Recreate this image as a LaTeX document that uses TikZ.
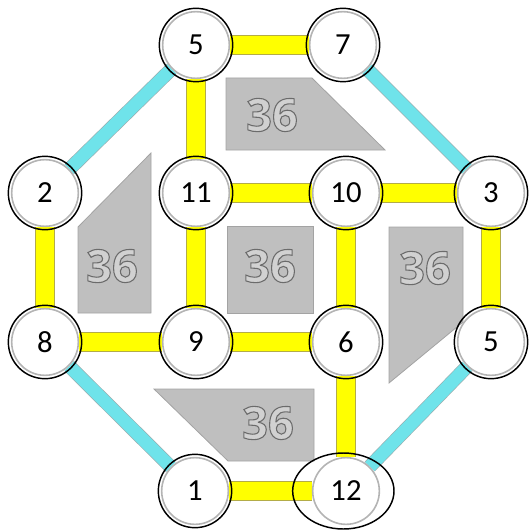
\documentclass[tikz,border=0pt]{standalone}
\usepackage{fontspec}
\setmainfont{Carlito}
\newfontfamily\tilefont{Open Sans}
\usepackage{xcolor}
\usetikzlibrary{positioning,backgrounds}
\definecolor{BarYellow}{HTML}{FFFF00}
\definecolor{BarEdge}{HTML}{B3AC48}
\definecolor{BarCyan}{HTML}{6FE3EA}
\definecolor{CyanEdge}{HTML}{98AEB0}
\definecolor{TileGray}{HTML}{BFBFBF}
\definecolor{TileEdge}{HTML}{A3A3A3}
\definecolor{RingGray}{HTML}{B4B4B4}
\newcommand{\tileno}[1]{\special{pdf:literal 2 Tr 0.8 w 0.42 G 0.82 g}#1\special{pdf:literal 0 Tr 0 G 0 g}}
\tikzset{
  num/.style={circle, fill=white, draw=RingGray, line width=1.2pt,
              minimum size=50pt, inner sep=0pt, font=\fontsize{23}{26}\selectfont},
  ring/.style={draw=black, line width=1.1pt},
  ybar/.style={draw=BarEdge, double=BarYellow, double distance=13pt, line width=0.7pt},
  cbar/.style={draw=CyanEdge, double=BarCyan, double distance=9.5pt, line width=0.5pt},
  tile/.style={fill=TileGray, draw=TileEdge, line width=0.6pt},
  tilelabel/.style={font=\tilefont\bfseries\fontsize{34}{40}\selectfont, inner sep=0pt}
}

\begin{document}
\begin{tikzpicture}[x=0.75pt,y=-0.75pt]
  \useasboundingbox (0,0) rectangle (530,531);

  \draw[tile] (226,78) -- (312,78) -- (385,150) -- (226,150) -- cycle;
  \draw[tile] (78,227) -- (151,153) -- (151,313) -- (78,313) -- cycle;
  \draw[tile] (227,226) rectangle (313,313);
  \draw[tile] (389,227) -- (463,227) -- (463,322) -- (389,383) -- cycle;
  \draw[tile] (154,389) -- (314,389) -- (314,461) -- (228,461) -- cycle;

  \node[tilelabel] (lbltop) at (272,115) {\tileno{36}};
  \node[tilelabel] (lblleft) at (112,266) {\tileno{36}};
  \node[tilelabel] (lblmid) at (270,266) {\tileno{36}};
  \node[tilelabel] (lblright) at (425,268) {\tileno{36}};
  \node[tilelabel] (lblbot) at (268,423) {\tileno{36}};

  \node[num] (top5) at (196,45) {5};
  \node[num] (top7) at (343,45) {7};
  \node[num] (left2) at (45,193) {2};
  \node[num] (mid11) at (196,193) {11};
  \node[num] (mid10) at (346,193) {10};
  \node[num] (right3) at (491,193) {3};
  \node[num] (left8) at (45,342) {8};
  \node[num] (mid9) at (196,342) {9};
  \node[num] (mid6) at (346,342) {6};
  \node[num] (right5) at (491,342) {5};
  \node[num] (bot1) at (195,491) {1};
  \node[num] (bot12) at (346,491) {12};

  \begin{scope}[on background layer]
    \draw[cbar] (top5) -- (left2);
    \draw[cbar] (top7) -- (right3);
    \draw[cbar] (left8) -- (bot1);
    \draw[cbar] (right5) -- (bot12);
    \draw[ybar] (top5) -- (top7);
    \draw[ybar] (top5) -- (mid11);
    \draw[ybar] (mid11) -- (mid10);
    \draw[ybar] (mid10) -- (right3);
    \draw[ybar] (left2) -- (left8);
    \draw[ybar] (mid11) -- (mid9);
    \draw[ybar] (mid10) -- (mid6);
    \draw[ybar] (right3) -- (right5);
    \draw[ybar] (left8) -- (mid9);
    \draw[ybar] (mid9) -- (mid6);
    \draw[ybar] (mid6) -- (bot12);
    \draw[ybar] (bot1) -- (bot12);
  \end{scope}

  \foreach \n in {top5,top7,left2,mid11,mid10,right3,left8,mid9,mid6,right5,bot1}
    \draw[ring] (\n) circle[radius=27.5pt];
  \draw[ring] ([xshift=-2pt]bot12) ellipse[x radius=38pt, y radius=28.5pt];
\end{tikzpicture}
\end{document}
